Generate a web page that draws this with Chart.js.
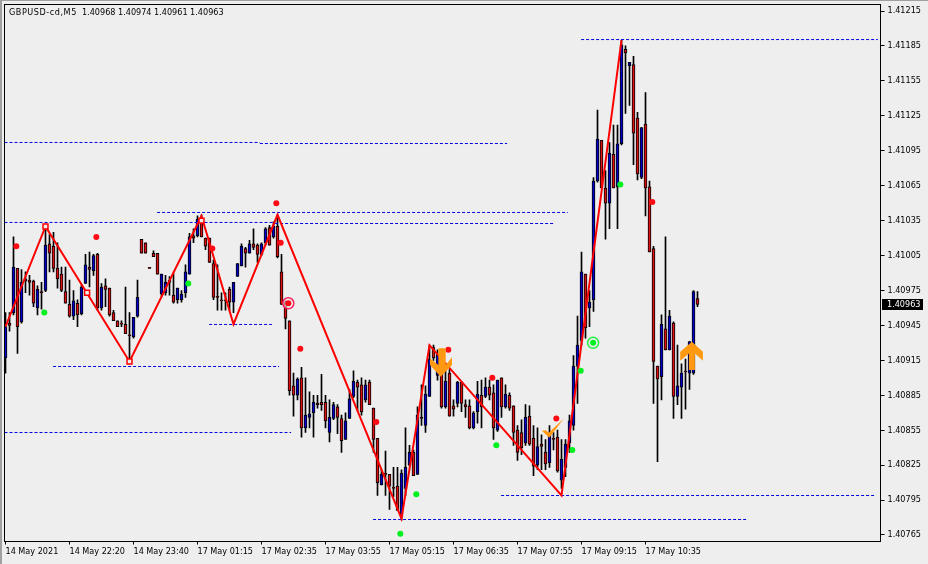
<!DOCTYPE html>
<html>
<head>
<meta charset="utf-8">
<title>GBPUSD-cd,M5</title>
<script src="https://cdn.jsdelivr.net/npm/chart.js@4"></script>
<style>
    html, body { margin: 0; padding: 0; background: #eeeeee; overflow: hidden; }
    #wrap { position: relative; width: 928px; height: 564px; }
    #header { position: absolute; left: 9px; top: 7px; font: 9px "DejaVu Sans Condensed", "DejaVu Sans", sans-serif; color: #000; white-space: pre; }
    #header span { letter-spacing: 0.55px; }
</style>
</head>
<body>
<div id="wrap">
    <canvas id="chart" width="928" height="564"></canvas>
    <div id="header"><span>GBPUSD-cd,M5</span>  1.40968 1.40974 1.40961 1.40963</div>
</div>
<script>
const opens = [
    1.40917,1.40947,1.40956,1.40994,1.40948,1.40985,1.40984,1.40983,1.40960,1.40974,
    1.40975,1.41015,1.41013,1.40994,1.40989,1.40974,1.40963,1.40953,1.40964,1.40955,
    1.40981,1.40995,1.40992,1.41006,1.40960,1.40979,1.40977,1.40956,1.40949,1.40947,
    1.40946,1.40937,1.40935,1.40953,1.41019,1.41016,1.40994,1.41007,1.41007,1.40972,
    1.40973,1.40984,1.40971,1.40967,1.40967,1.40973,1.40989,1.41022,1.41022,1.41034,
    1.41020,1.41020,1.40998,1.40969,1.40966,1.40967,1.40976,1.40965,1.40987,1.40996,
    1.41011,1.41007,1.41015,1.41014,1.41006,1.41016,1.41029,1.41021,1.41030,1.40991,
    1.40965,1.40949,1.40893,1.40885,1.40900,1.40857,1.40866,1.40870,1.40878,1.40879,
    1.40879,1.40853,1.40865,1.40875,1.40865,1.40847,1.40865,1.40884,1.40896,1.40894,
    1.40881,1.40896,1.40874,1.40848,1.40808,1.40818,1.40817,1.40806,1.40807,1.40781,
    1.40805,1.40825,1.40836,1.40817,1.40866,1.40859,1.40884,1.40926,1.40902,1.40908,
    1.40875,1.40904,1.40876,1.40878,1.40896,1.40877,1.40876,1.40857,1.40871,1.40885,
    1.40884,1.40892,1.40887,1.40855,1.40900,1.40875,1.40885,1.40876,1.40855,1.40853,
    1.40844,1.40867,1.40848,1.40825,1.40843,1.40836,1.40827,1.40848,1.40849,1.40812,
    1.40823,1.40844,1.40859,1.40910,1.40932,1.40989,1.40960,1.40967,1.41069,1.41104,
    1.41063,1.41050,1.41092,1.41064,1.41101,1.41182,1.41168,1.41169,1.41123,1.41072,
    1.41118,1.41064,1.41011,1.40910,1.40901,1.40942,1.40924,1.40947,1.40884,1.40892,
    1.40905,1.40904,1.40904,1.40968
];
const highs = [
    1.40956,1.40956,1.41021,1.40994,1.40993,1.40991,1.40988,1.40984,1.40979,1.40982,
    1.41030,1.41023,1.41025,1.41016,1.40995,1.40995,1.40984,1.40975,1.40967,1.40980,
    1.41006,1.41008,1.41006,1.41007,1.40981,1.40985,1.40977,1.40958,1.40949,1.40949,
    1.40978,1.40956,1.40952,1.40984,1.41019,1.41016,1.40994,1.41009,1.41007,1.40989,
    1.40988,1.40987,1.40990,1.40977,1.40975,1.40997,1.41024,1.41028,1.41039,1.41040,
    1.41020,1.41020,1.41001,1.40997,1.40973,1.40973,1.40978,1.40982,1.40998,1.41015,
    1.41012,1.41018,1.41028,1.41015,1.41016,1.41029,1.41031,1.41034,1.41040,1.41006,
    1.40966,1.40949,1.40904,1.40900,1.40909,1.40900,1.40888,1.40885,1.40885,1.40903,
    1.40885,1.40881,1.40879,1.40877,1.40868,1.40870,1.40890,1.40906,1.40898,1.40900,
    1.40898,1.40898,1.40874,1.40848,1.40821,1.40837,1.40817,1.40823,1.40823,1.40821,
    1.40857,1.40842,1.40838,1.40875,1.40894,1.40893,1.40928,1.40928,1.40924,1.40920,
    1.40911,1.40907,1.40881,1.40897,1.40896,1.40881,1.40881,1.40871,1.40897,1.40898,
    1.40900,1.40898,1.40894,1.40898,1.40900,1.40894,1.40887,1.40876,1.40859,1.40864,
    1.40877,1.40876,1.40859,1.40857,1.40851,1.40847,1.40859,1.40853,1.40855,1.40847,
    1.40847,1.40868,1.40919,1.40953,1.41008,1.40989,1.40975,1.41072,1.41130,1.41104,
    1.41078,1.41102,1.41117,1.41117,1.41190,1.41185,1.41171,1.41176,1.41128,1.41115,
    1.41145,1.41069,1.41013,1.40910,1.40954,1.41021,1.40958,1.40948,1.40928,1.40912,
    1.40916,1.40931,1.40975,1.40974
];
const lows = [
    1.40904,1.40940,1.40954,1.40921,1.40947,1.40973,1.40971,1.40961,1.40954,1.40959,
    1.40974,1.40991,1.40991,1.40977,1.40974,1.40964,1.40952,1.40950,1.40944,1.40954,
    1.40981,1.40978,1.40988,1.40958,1.40958,1.40961,1.40953,1.40949,1.40944,1.40944,
    1.40938,1.40914,1.40934,1.40952,1.41007,1.41007,1.40994,1.41004,1.40989,1.40970,
    1.40971,1.40971,1.40964,1.40964,1.40965,1.40969,1.40989,1.41016,1.41021,1.41021,
    1.41010,1.40999,1.40967,1.40958,1.40958,1.40958,1.40958,1.40956,1.40987,1.40996,
    1.40995,1.41007,1.41010,1.40999,1.41005,1.41014,1.41014,1.41020,1.41003,1.40963,
    1.40942,1.40885,1.40867,1.40881,1.40849,1.40853,1.40857,1.40849,1.40874,1.40872,
    1.40857,1.40845,1.40864,1.40852,1.40836,1.40847,1.40865,1.40883,1.40872,1.40868,
    1.40879,1.40877,1.40836,1.40799,1.40808,1.40799,1.40787,1.40798,1.40786,1.40778,
    1.40799,1.40824,1.40816,1.40817,1.40859,1.40853,1.40884,1.40915,1.40898,1.40874,
    1.40874,1.40867,1.40867,1.40875,1.40871,1.40866,1.40856,1.40856,1.40861,1.40857,
    1.40883,1.40881,1.40847,1.40854,1.40866,1.40874,1.40872,1.40842,1.40829,1.40834,
    1.40842,1.40842,1.40816,1.40821,1.40821,1.40821,1.40823,1.40838,1.40819,1.40805,
    1.40815,1.40836,1.40855,1.40878,1.40928,1.40934,1.40944,1.40957,1.41068,1.41063,
    1.41019,1.41028,1.41063,1.41028,1.41100,1.41127,1.41134,1.41083,1.41070,1.41071,
    1.41039,1.41008,1.40878,1.40828,1.40881,1.40924,1.40924,1.40865,1.40877,1.40865,
    1.40873,1.40890,1.40903,1.40961
];
const closes = [
    1.40944,1.40945,1.40995,1.40944,1.40982,1.40983,1.40982,1.40964,1.40976,1.40973,
    1.41014,1.41007,1.40994,1.40985,1.40975,1.40964,1.40953,1.40966,1.40954,1.40978,
    1.40997,1.40993,1.41005,1.40960,1.40978,1.40976,1.40954,1.40949,1.40944,1.40946,
    1.40938,1.40936,1.40952,1.40969,1.41007,1.41007,1.40994,1.41004,1.40989,1.40989,
    1.40982,1.40982,1.40965,1.40977,1.40972,1.40991,1.41021,1.41020,1.41036,1.41021,
    1.41013,1.40999,1.40969,1.40969,1.40966,1.40966,1.40965,1.40982,1.40998,1.41013,
    1.41007,1.41015,1.41012,1.41006,1.41015,1.41028,1.41014,1.41030,1.41004,1.40963,
    1.40951,1.40889,1.40885,1.40899,1.40857,1.40868,1.40869,1.40879,1.40877,1.40877,
    1.40863,1.40866,1.40877,1.40866,1.40846,1.40863,1.40882,1.40897,1.40892,1.40871,
    1.40894,1.40877,1.40847,1.40810,1.40817,1.40817,1.40807,1.40805,1.40786,1.40818,
    1.40823,1.40836,1.40816,1.40868,1.40865,1.40886,1.40916,1.40917,1.40920,1.40875,
    1.40897,1.40867,1.40873,1.40896,1.40878,1.40875,1.40857,1.40870,1.40886,1.40875,
    1.40892,1.40885,1.40857,1.40898,1.40875,1.40886,1.40874,1.40853,1.40836,1.40840,
    1.40866,1.40843,1.40824,1.40841,1.40841,1.40826,1.40851,1.40847,1.40820,1.40830,
    1.40843,1.40863,1.40910,1.40928,1.40991,1.40943,1.40965,1.41069,1.41105,1.41063,
    1.41050,1.41093,1.41063,1.41101,1.41186,1.41179,1.41171,1.41110,1.41075,1.41115,
    1.41063,1.41008,1.40914,1.40899,1.40946,1.40924,1.40953,1.40884,1.40893,1.40904,
    1.40905,1.40931,1.40974,1.40963
];

// zigzag turning points, x is the bar number
const zigzagBars = [0, 10, 31, 49, 57, 68, 99, 106, 139, 154];
const zigzagPrices = [1.40944, 1.41030, 1.40914, 1.41039, 1.40946, 1.41040, 1.40779, 1.40928, 1.40799, 1.41190];
const squareBars = [10, 20.4, 31, 49];
const squarePrices = [1.41030, 1.40973, 1.40914, 1.41035];

// support / resistance levels
const levelFrom = [-0.25, 63.6, -0.25, 67.4, 37.9, 11.9, 50.9, -0.25, 91.9, 123.9, 143.9];
const levelTo = [63.6, 125.4, 67.4, 136.9, 140.6, 68.4, 66.6, 71.4, 185.6, 217.4, 218.1];
const levelPrices = [1.411021, 1.411012, 1.410334, 1.410325, 1.410420, 1.409097, 1.409458, 1.408530, 1.407783, 1.407989, 1.411905];

// signal dots
const redDotBars = [2.7, 22.7, 51.7, 68.8, 67.7, 73.7, 92.7, 110.7, 121.7, 137.7, 161.7, 70.7];
const redDotPrices = [1.41013, 1.41021, 1.41011, 1.41016, 1.41050, 1.40925, 1.40862, 1.40924, 1.40900, 1.40865, 1.41051, 1.40964];
const greenDotBars = [9.7, 45.7, 102.7, 98.7, 122.7, 141.7, 143.8, 153.7, 146.9];
const greenDotPrices = [1.40956, 1.40981, 1.40800, 1.40766, 1.40842, 1.40838, 1.40906, 1.41066, 1.40930];
const redRingBars = [70.7];
const redRingPrices = [1.40964];
const greenRingBars = [146.9];
const greenRingPrices = [1.40930];

// orange signs, anchored on their tip
const downArrow = { bar: 108.8, price: 1.40901 };
const upArrow = { bar: 171.6, price: 1.40931 };
const checkMark = { bar: 135.7, price: 1.40849 };

const lastPrice = 1.40963;

const yTicks = [1.41215, 1.41185, 1.41155, 1.41125, 1.41095, 1.41065, 1.41035, 1.41005, 1.40975, 1.40945, 1.40915, 1.40885, 1.40855, 1.40825, 1.40795, 1.40765];
const xTickBars = [0, 16, 32, 48, 64, 80, 96, 112, 128, 144, 160];
const xTickLabels = ['14 May 2021', '14 May 22:20', '14 May 23:40', '17 May 01:15', '17 May 02:35', '17 May 03:55', '17 May 05:15', '17 May 06:35', '17 May 07:55', '17 May 09:15', '17 May 10:35'];

const AXIS_FONT = { family: '"DejaVu Sans Condensed", "DejaVu Sans", sans-serif', size: 9 };

function toPoints(xs, ys) {
    return xs.map((x, i) => ({ x: x, y: ys[i] }));
}

function dotDataset(xs, ys, color, radius) {
    return {
        type: 'scatter',
        data: toPoints(xs, ys),
        pointRadius: radius,
        pointBackgroundColor: color,
        pointBorderWidth: 0,
        order: 2
    };
}

function ringDataset(xs, ys, color) {
    return {
        type: 'scatter',
        data: toPoints(xs, ys),
        pointRadius: 5.5,
        pointBackgroundColor: 'rgba(238,238,238,0.6)',
        pointBorderColor: color,
        pointBorderWidth: 1.5,
        order: 3
    };
}

// the scale would otherwise reserve room for its outer labels and shift the plot
function noPadding(axis) {
    axis.paddingLeft = axis.paddingRight = axis.paddingTop = axis.paddingBottom = 0;
}

const wickData = opens.map((o, i) => ({ x: i, y: [lows[i], highs[i]] }));
const bodyData = opens.map((o, i) => ({ x: i, y: [Math.min(o, closes[i]), Math.max(o, closes[i])] }));
const bodyColors = opens.map((o, i) => closes[i] > o ? '#0000cc' : '#dd1010');

const datasets = [
    {
        type: 'bar',
        data: wickData,
        backgroundColor: '#000',
        barThickness: 1,
        grouped: false,
        minBarLength: 1,
        order: 11
    },
    {
        type: 'bar',
        data: bodyData,
        backgroundColor: bodyColors,
        borderColor: '#000',
        borderWidth: 1,
        borderSkipped: false,
        barThickness: 3,
        grouped: false,
        minBarLength: 1,
        order: 10
    },
    {
        type: 'line',
        data: toPoints(zigzagBars, zigzagPrices),
        borderColor: '#ff0000',
        borderWidth: 2,
        pointRadius: 0,
        tension: 0,
        order: 5
    },
    {
        type: 'scatter',
        data: toPoints(squareBars, squarePrices),
        pointStyle: 'rect',
        pointRadius: 3.5,
        pointBackgroundColor: '#eeeeee',
        pointBorderColor: '#ff0000',
        pointBorderWidth: 1.5,
        order: 4
    },
    ringDataset(redRingBars, redRingPrices, '#ff2060'),
    ringDataset(greenRingBars, greenRingPrices, '#20ee40'),
    dotDataset(redDotBars, redDotPrices, '#ff0a14', 3),
    dotDataset(greenDotBars, greenDotPrices, '#00f020', 3)
];

levelPrices.forEach((price, i) => {
    datasets.push({
        type: 'line',
        data: [{ x: levelFrom[i], y: price }, { x: levelTo[i], y: price }],
        borderColor: '#0000dd',
        borderWidth: 1,
        borderDash: [3, 2],
        pointRadius: 0,
        order: 8
    });
});

function polygon(ctx, x, y, pts, color) {
    ctx.beginPath();
    pts.forEach((p, i) => i ? ctx.lineTo(x + p[0], y + p[1]) : ctx.moveTo(x + p[0], y + p[1]));
    ctx.closePath();
    ctx.fillStyle = color;
    ctx.fill();
}

// frame, orange signs and the last price box
const overlayPlugin = {
    id: 'overlay',
    beforeDraw(chart) {
        const { ctx, width, height } = chart;
        ctx.save();
        ctx.fillStyle = '#eeeeee';
        ctx.fillRect(0, 0, width, height);
        ctx.fillStyle = '#a0a0a0';
        ctx.fillRect(0, 0, width, 1);
        ctx.fillRect(0, 0, 2, height);
        ctx.restore();
    },
    afterDraw(chart) {
        const { ctx, chartArea: a, scales } = chart;
        const px = scales.x, py = scales.y;
        ctx.save();
        ctx.strokeStyle = '#000';
        ctx.lineWidth = 1;
        ctx.strokeRect(a.left, a.top, a.right - a.left, a.bottom - a.top);

        const orange = '#ff9912';
        polygon(ctx, px.getPixelForValue(downArrow.bar), py.getPixelForValue(downArrow.price),
            [[0, 0], [-10.7, -11.7], [-10.7, -18.3], [-2.3, -11.7], [-2.3, -28.3], [5, -28.3], [5, -11.7], [11.3, -19.3], [11.3, -11.7]], orange);
        polygon(ctx, px.getPixelForValue(upArrow.bar), py.getPixelForValue(upArrow.price),
            [[0, 0], [11, 10], [11, 19], [3, 11.7], [3, 28.3], [-3, 28.3], [-3, 11.7], [-11.7, 19], [-11.7, 10]], orange);
        polygon(ctx, px.getPixelForValue(checkMark.bar), py.getPixelForValue(checkMark.price),
            [[-6.5, -6.5], [-2.5, -7], [0.5, -4.5], [15.7, -19], [1, 0.5]], orange);

        const yLast = Math.round(py.getPixelForValue(lastPrice));
        ctx.fillStyle = '#000';
        ctx.fillRect(882, yLast - 5, 41, 11);
        ctx.fillStyle = '#fff';
        ctx.font = '9px "DejaVu Sans Condensed", "DejaVu Sans", sans-serif';
        ctx.textBaseline = 'middle';
        ctx.fillText(lastPrice.toFixed(5), 887, yLast + 0.5);
        ctx.restore();
    }
};

new Chart(document.getElementById('chart').getContext('2d'), {
    data: { datasets: datasets },
    plugins: [overlayPlugin],
    options: {
        responsive: false,
        animation: false,
        devicePixelRatio: 1,
        layout: { autoPadding: false, padding: { left: 4.5, top: 4.5, right: 0, bottom: 0 } },
        plugins: { legend: { display: false }, tooltip: { enabled: false } },
        scales: {
            x: {
                type: 'linear',
                min: -0.25,
                max: 218.75,
                offset: false,
                afterBuildTicks: axis => { axis.ticks = xTickBars.map(v => ({ value: v })); },
                afterFit: axis => { axis.height = 22.5; noPadding(axis); },
                grid: { offset: false, drawOnChartArea: false, color: '#000', tickLength: 3 },
                border: { display: false },
                ticks: {
                    autoSkip: false,
                    maxRotation: 0,
                    align: 'start',
                    padding: 2,
                    color: '#000',
                    font: AXIS_FONT,
                    callback: value => xTickLabels[xTickBars.indexOf(value)]
                }
            },
            y: {
                type: 'linear',
                position: 'right',
                min: 1.407594,
                max: 1.412206,
                afterBuildTicks: axis => { axis.ticks = yTicks.map(v => ({ value: v })); },
                afterFit: axis => { axis.width = 47.5; noPadding(axis); },
                grid: { drawOnChartArea: false, color: '#000', tickLength: 4 },
                border: { display: false },
                ticks: {
                    autoSkip: false,
                    padding: 3,
                    color: '#000',
                    font: AXIS_FONT,
                    callback: value => value.toFixed(5)
                }
            }
        }
    }
});
</script>
</body>
</html>
